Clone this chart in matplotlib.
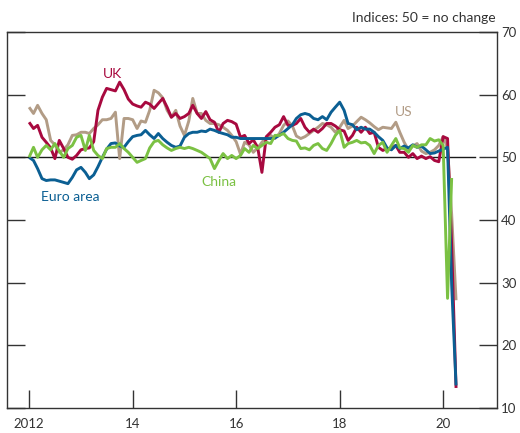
import matplotlib
matplotlib.use("Agg")
import matplotlib.pyplot as plt
import pandas as pd

plt.rcParams['font.family'] = ['Lato', 'DejaVu Sans']

start_month = "2012-01"

uk = [55.6, 54.6, 55.1, 53.2, 52.4, 51.5, 49.8, 52.7, 51.4, 50.0, 49.7, 50.3,
      51.2, 51.4, 51.5, 52.5, 57.5, 59.6, 61.0, 60.8, 60.6, 62.0, 60.8, 59.3,
      58.5, 58.2, 58.0, 58.8, 58.5, 57.8, 58.6, 59.4, 58.0, 56.4, 57.0, 56.2,
      56.5, 57.0, 58.3, 57.0, 56.2, 57.3, 56.0, 55.6, 54.0, 55.4, 55.9, 55.7,
      55.3, 53.2, 53.5, 52.2, 52.8, 51.6, 47.6, 53.3, 54.0, 54.8, 55.2, 56.5,
      55.1, 55.1, 55.4, 56.2, 54.8, 54.0, 54.5, 54.0, 54.6, 55.4, 55.4, 55.0,
      54.4, 54.2, 52.7, 53.5, 54.8, 54.0, 54.8, 53.8, 54.0, 51.6, 51.1, 51.4,
      51.4, 51.9, 50.8, 50.8, 50.0, 50.6, 49.8, 50.2, 49.8, 50.1, 49.5, 49.3,
      53.3, 53.0, 36.0, 13.2]

euro_area = [50.0, 49.5, 48.2, 46.6, 46.3, 46.4, 46.4, 46.2, 46.0, 45.8, 46.8, 48.0,
             48.4, 47.6, 46.6, 47.2, 48.5, 50.0, 51.3, 52.2, 52.3, 51.8, 51.6, 52.5,
             53.3, 53.5, 53.6, 54.3, 53.6, 53.0, 53.8, 53.0, 52.4, 51.9, 51.6, 51.8,
             53.2, 53.8, 54.0, 54.0, 54.2, 54.1, 54.5, 54.3, 54.0, 53.8, 53.6, 53.2,
             53.2, 53.0, 53.0, 53.0, 53.0, 53.0, 53.0, 53.0, 53.0, 53.1, 53.5, 54.0,
             54.6, 55.2, 56.2, 56.8, 57.0, 56.8, 56.2, 56.0, 56.5, 56.0, 57.2, 58.0,
             58.8, 57.5, 55.4, 55.2, 54.4, 54.8, 54.5, 54.5, 54.0, 53.3, 52.7, 51.5,
             51.2, 51.9, 51.4, 51.8, 51.5, 52.0, 51.6, 51.8, 51.2, 50.6, 50.7, 51.0,
             51.3, 51.6, 29.7, 13.6]

us = [58.0, 57.0, 58.3, 57.0, 56.0, 52.7, 52.0, 50.8, 51.2, 52.0, 53.5, 53.6,
      54.0, 54.0, 53.8, 54.6, 55.2, 56.0, 56.0, 56.2, 57.2, 49.8, 56.2, 56.2,
      56.0, 54.6, 55.8, 55.6, 57.5, 60.7, 60.3, 59.5, 57.5, 56.4, 57.5, 55.0,
      53.5, 55.8, 59.4, 57.0, 57.0, 55.9, 55.4, 55.4, 55.2, 54.8, 54.3, 53.5,
      52.5, 50.5, 52.4, 52.0, 50.8, 51.5, 52.4, 53.2, 53.5, 53.0, 53.8, 55.1,
      55.8, 55.0, 53.4, 53.0, 53.3, 53.8, 54.3, 54.8, 55.4, 55.2, 54.8, 54.0,
      54.8, 55.9, 54.6, 55.0, 55.7, 56.4, 56.0, 55.5, 54.9, 54.4, 54.8, 54.7,
      54.6, 55.6, 54.0, 52.4, 51.2, 51.8, 52.2, 51.0, 50.6, 50.8, 51.2, 51.9,
      53.3, 51.5, 40.9, 27.2]

china = [50.0, 51.6, 50.0, 51.2, 51.9, 51.2, 52.2, 51.0, 50.0, 51.4, 51.9, 53.2,
         53.5, 51.1, 53.5, 51.1, 50.3, 49.8, 51.4, 51.6, 51.6, 52.2, 51.4, 50.8,
         50.0, 49.2, 49.5, 49.8, 51.5, 52.5, 52.7, 52.0, 51.5, 51.1, 51.4, 51.6,
         51.4, 51.6, 51.4, 51.1, 50.8, 50.3, 49.8, 48.2, 49.5, 50.6, 49.8, 50.3,
         49.8, 50.3, 51.4, 50.8, 51.9, 51.4, 51.9, 52.4, 52.2, 53.5, 53.5, 53.8,
         53.0, 52.7, 52.6, 51.4, 51.5, 51.2, 51.9, 52.2, 51.4, 51.1, 52.2, 53.5,
         54.3, 51.6, 52.2, 52.4, 52.7, 52.3, 52.4, 51.9, 50.6, 51.9, 52.4, 50.8,
         51.9, 53.0, 51.5, 51.4, 50.8, 51.9, 51.6, 52.0, 52.0, 53.0, 52.6, 52.8,
         51.9, 27.5, 46.7]

year_ticks = ["2012", "2013", "2014", "2015", "2016", "2017", "2018", "2019", "2020"]
year_labels = ["2012", "", "14", "", "16", "", "18", "", "20"]
y_ticks = [10, 20, 30, 40, 50, 60, 70]

colors = {"UK": "#a8093f", "Euro area": "#0b5f93", "US": "#b29c86", "China": "#7bc143"}
order = [("US", us), ("UK", uk), ("Euro area", euro_area), ("China", china)]

fig = plt.figure(figsize=(5.2, 4.33), dpi=100)
ax = fig.add_axes([7/520, 1-408/433, 490/520, 376/433])

for name, vals in order:
    d = pd.date_range(start_month, periods=len(vals), freq="MS")
    ax.plot(d, vals, color=colors[name], lw=2.1, solid_joinstyle="round",
            solid_capstyle="butt", zorder=3)

x0 = pd.Timestamp("2011-07-29")
x1 = pd.Timestamp("2021-01-15")
ax.plot([x0, pd.Timestamp("2020-08-15")], [50, 50], color="#1a1a1a", lw=1.0, zorder=2)
ax.set_xlim(x0, x1)
ax.set_ylim(10, 70)

ax.set_xticks([pd.Timestamp(y + "-01-01") for y in year_ticks])
ax.set_xticklabels(year_labels)
ax.xaxis.set_minor_locator(matplotlib.ticker.NullLocator())
ax.tick_params(axis="x", direction="in", length=13, width=1, color="#333333",
               labelsize=9.5, labelcolor="#333333", pad=7)
for t, lab in zip(ax.xaxis.get_major_ticks(), year_labels):
    if lab == "":
        t.tick1line.set_visible(False)

ax.set_yticks(y_ticks)
ax.yaxis.tick_right()
ax.tick_params(axis="y", which="both", direction="in", length=13, width=1,
               color="#333333", labelsize=9.5, labelcolor="#333333",
               left=True, right=True, labelleft=False, labelright=True, pad=3)

for s in ax.spines.values():
    s.set_color("#333333")
    s.set_linewidth(1.0)

ax.text(pd.Timestamp("2013-08-15"), 63.3, "UK", color=colors["UK"], fontsize=10, ha="center", va="center")
ax.text(pd.Timestamp("2019-03-25"), 57.3, "US", color=colors["US"], fontsize=10, ha="center", va="center")
ax.text(pd.Timestamp("2015-09-01"), 46.0, "China", color=colors["China"], fontsize=10, ha="center", va="center")
ax.text(pd.Timestamp("2012-10-20"), 43.7, "Euro area", color=colors["Euro area"], fontsize=10, ha="center", va="center")

fig.text(496/520, 1-18/433, "Indices: 50 = no change", ha="right", va="center",
         fontsize=10, color="#333333")

fig.savefig("out.png", dpi=100)
